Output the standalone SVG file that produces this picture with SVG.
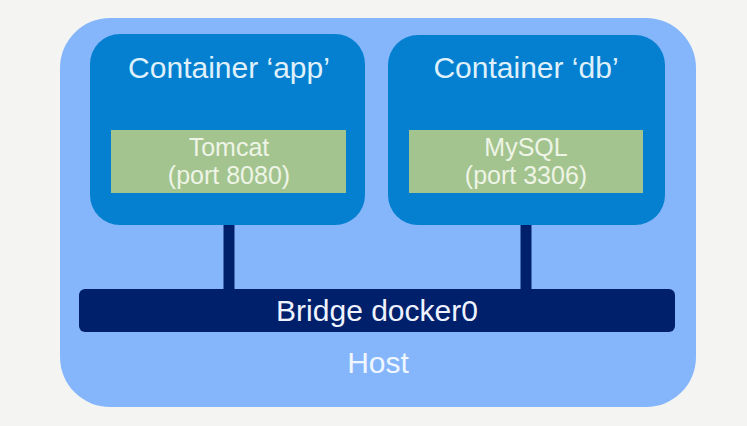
<svg xmlns="http://www.w3.org/2000/svg" width="747" height="426" viewBox="0 0 747 426">
<style>
.container{fill:#0580d0;}
.svc{fill:#a3c48e;}
.t{font-family:"Liberation Sans",Arial,sans-serif;text-anchor:middle;}
.ct{fill:#dff0fb;font-size:30px;}
.st{fill:#eef4e6;font-size:25px;}
.link{stroke:#00206c;stroke-width:11;}
</style>
<rect width="747" height="426" fill="#f4f4f2"/>
<g id="host">
<rect x="60" y="18" width="636" height="389" rx="50" fill="#85b6fb"/>
<text class="t" x="378" y="373" fill="#f0f6ff" font-size="30">Host</text>
</g>
<g id="connectors">
<line class="link" x1="229" y1="225" x2="229" y2="292"/>
<line class="link" x1="526" y1="225" x2="526" y2="292"/>
</g>
<g id="container-app">
<rect class="container" x="90" y="34" width="275" height="191" rx="30"/>
<text class="t ct" x="229" y="78">Container ‘app’</text>
<rect class="svc" x="111" y="130" width="235" height="63"/>
<text class="t st" x="229" y="156">Tomcat</text>
<text class="t st" x="229" y="184">(port 8080)</text>
</g>
<g id="container-db">
<rect class="container" x="388" y="35" width="277" height="190" rx="30"/>
<text class="t ct" x="526" y="78">Container ‘db’</text>
<rect class="svc" x="409" y="130" width="234" height="63"/>
<text class="t st" x="526" y="156">MySQL</text>
<text class="t st" x="526" y="184">(port 3306)</text>
</g>
<g id="bridge">
<rect x="79" y="289" width="596" height="43" rx="6" fill="#00206c"/>
<text class="t" x="377" y="321" fill="#eef3ff" font-size="30">Bridge docker0</text>
</g>
</svg>
